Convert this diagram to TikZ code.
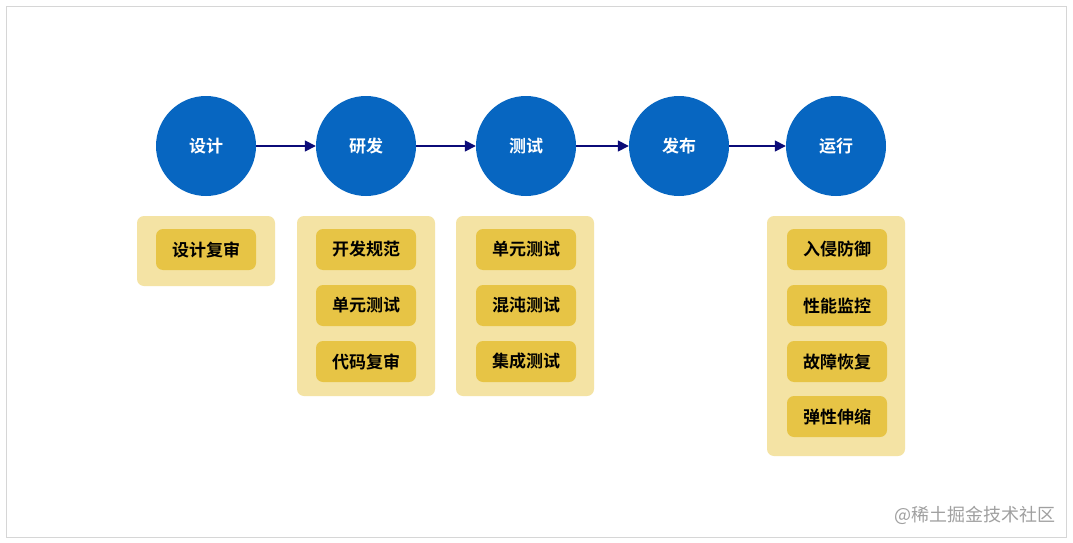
\documentclass[tikz,border=0pt]{standalone}
\usepackage{fontspec}
\newfontfamily\cjk{Noto Sans CJK SC}
\newfontfamily\cjkb{Noto Sans CJK SC Bold}
\usetikzlibrary{arrows.meta}
\definecolor{cblue}{HTML}{0766C1}
\definecolor{navy}{HTML}{0B0B78}
\definecolor{outery}{HTML}{F4E3A4}
\definecolor{pilly}{HTML}{E7C445}
\definecolor{framec}{HTML}{D6D6D6}
\definecolor{wm}{HTML}{A0A0A0}
\tikzset{
  stage/.style={circle, fill=cblue, minimum size=100pt, inner sep=0pt, text=white, font=\cjkb\fontsize{17}{17}\selectfont},
  group/.style={fill=outery, rounded corners=7pt},
  pill/.style={fill=pilly, rounded corners=7pt, minimum width=100pt, minimum height=41pt, inner sep=0pt, text=black, font=\cjkb\fontsize{17}{17}\selectfont},
  flow/.style={draw=navy, line width=1.6pt, -{Triangle[length=11pt,width=11pt]}},
}
\begin{document}
\begin{tikzpicture}[x=1pt,y=-1pt]
\useasboundingbox (0,0) rectangle (1073,543);
\fill[white] (0,0) rectangle (1073,543);
\draw[framec, line width=1pt] (6.5,6.5) rectangle (1066.5,537);
% stages
\node[stage] (s1) at (206,146) {设计};
\node[stage] (s2) at (366,146) {研发};
\node[stage] (s3) at (526,146) {测试};
\node[stage] (s4) at (679,146) {发布};
\node[stage] (s5) at (836,146) {运行};
\draw[flow] (s1) -- (s2);
\draw[flow] (s2) -- (s3);
\draw[flow] (s3) -- (s4);
\draw[flow] (s4) -- (s5);
% groups
\fill[group] (137,216) rectangle (275,286);
\fill[group] (297,216) rectangle (435,396);
\fill[group] (456,216) rectangle (594,396);
\fill[group] (767,216) rectangle (905,456);
% pills
\node[pill] (a1) at (206,249.5) {设计复审};
\node[pill] (b1) at (366,249.5) {开发规范};
\node[pill] (b2) at (366,305.5) {单元测试};
\node[pill] (b3) at (366,361.5) {代码复审};
\node[pill] (c1) at (526,249.5) {单元测试};
\node[pill] (c2) at (526,305.5) {混沌测试};
\node[pill] (c3) at (526,361.5) {集成测试};
\node[pill] (e1) at (837,249.5) {入侵防御};
\node[pill] (e2) at (837,305.5) {性能监控};
\node[pill] (e3) at (837,361.5) {故障恢复};
\node[pill] (e4) at (837,416.5) {弹性伸缩};
% watermark
\node[anchor=east, text=wm, font=\cjk\fontsize{18}{18}\selectfont, inner sep=0pt] (wmk) at (1056,515) {@稀土掘金技术社区};
\end{tikzpicture}
\end{document}
